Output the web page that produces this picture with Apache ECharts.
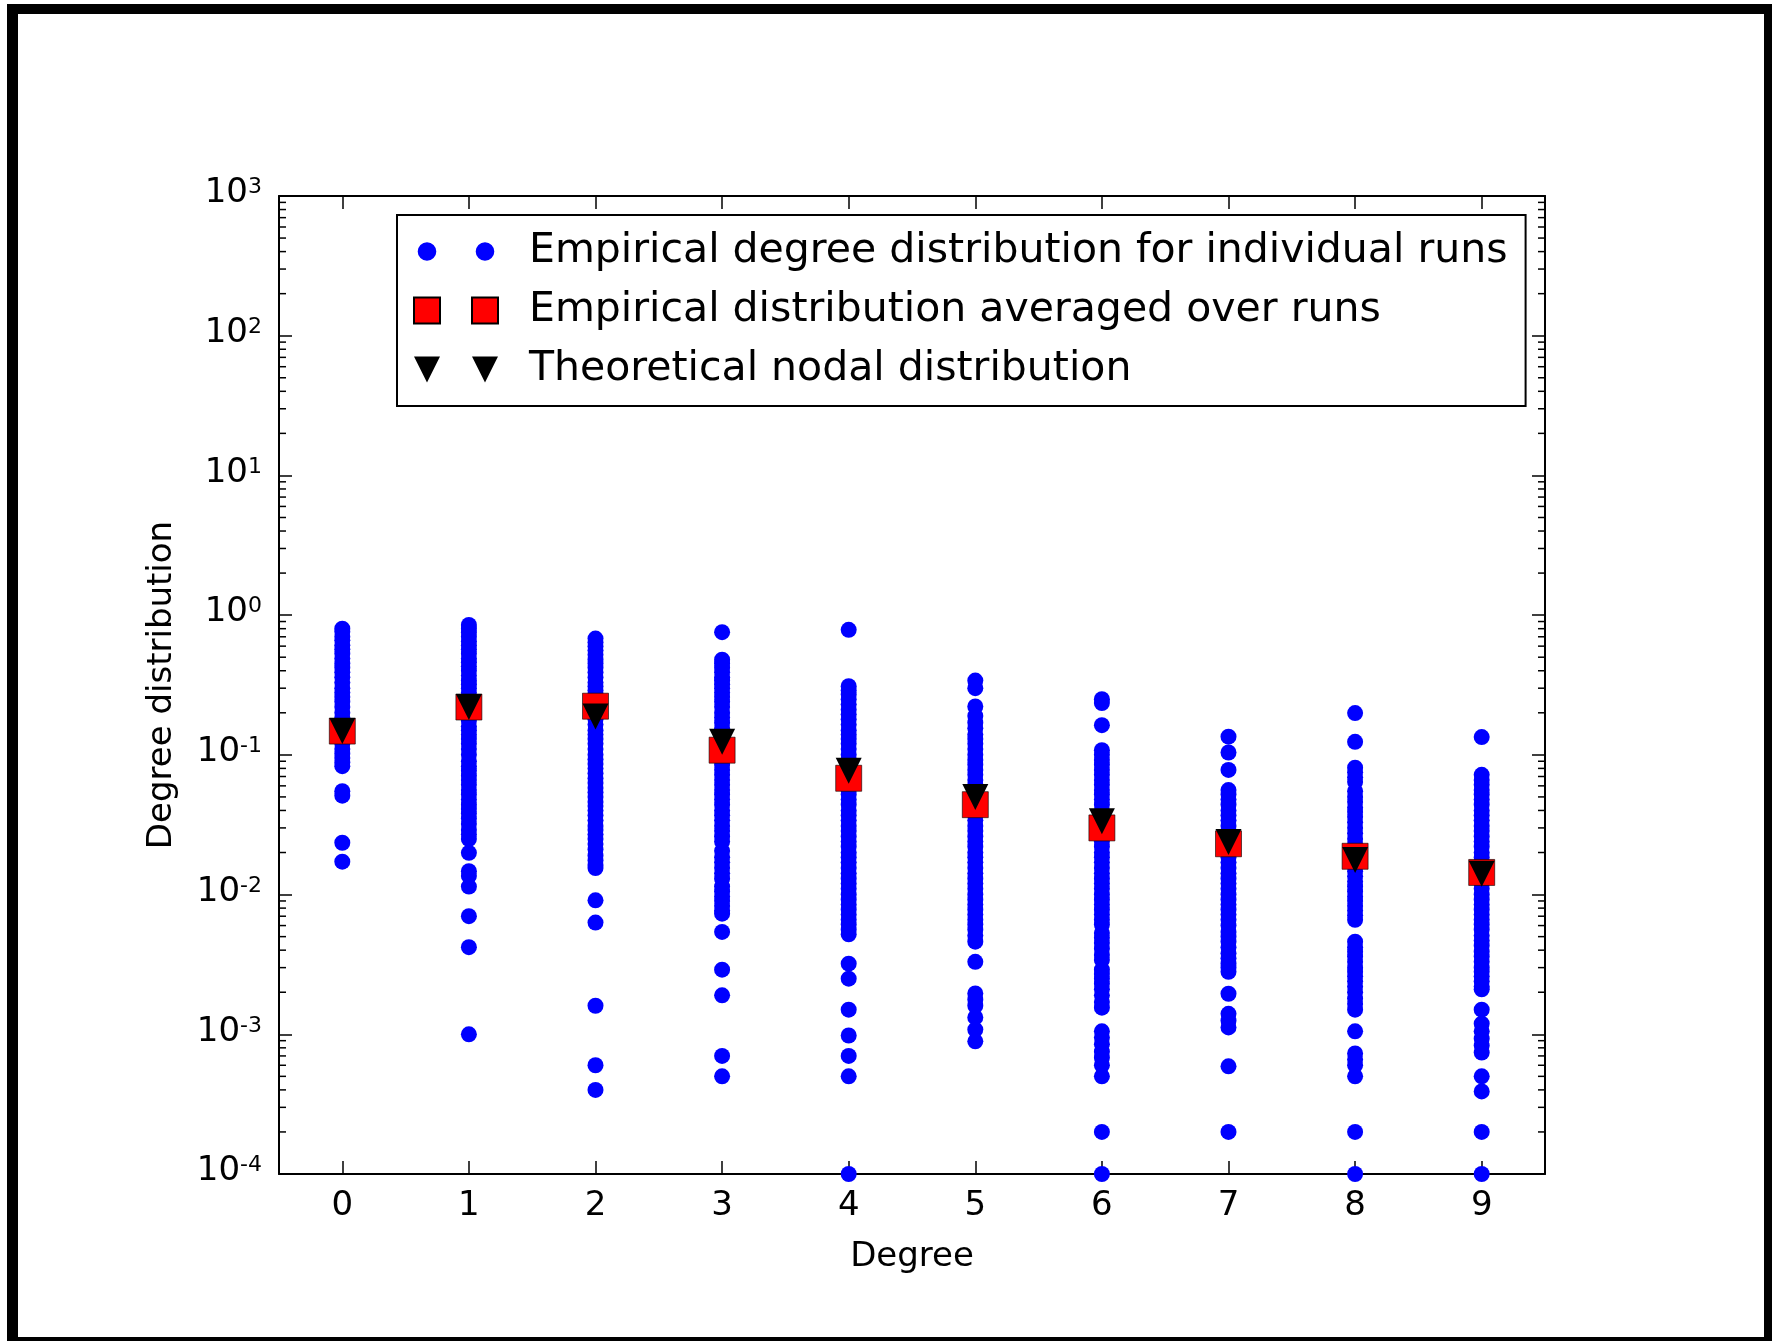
<!DOCTYPE html>
<html>
<head>
<meta charset="utf-8">
<script src="https://cdn.jsdelivr.net/npm/echarts@6/dist/echarts.min.js"></script>
<style>
html,body{margin:0;padding:0;background:#fff;}
#chart{width:1772px;height:1341px;}
</style>
</head>
<body>
<div id="chart"></div>
<script>
// ---------------- data ----------------
const degrees = [0, 1, 2, 3, 4, 5, 6, 7, 8, 9];

const runsDeg0 = [0.80, 0.76, 0.70, 0.66, 0.61, 0.57, 0.53, 0.49, 0.45, 0.42, 0.39, 0.36, 0.33, 0.30, 0.28, 0.26, 0.24, 0.22, 0.20, 0.185, 0.17, 0.155, 0.14, 0.13, 0.12, 0.11, 0.102, 0.095, 0.088, 0.083, 0.055, 0.051, 0.0235, 0.0172];
const runsDeg1 = [0.85, 0.80, 0.75, 0.70, 0.65, 0.61, 0.57, 0.53, 0.49, 0.46, 0.43, 0.40, 0.37, 0.34, 0.32, 0.30, 0.28, 0.26, 0.24, 0.22, 0.205, 0.19, 0.175, 0.16, 0.15, 0.14, 0.13, 0.12, 0.11, 0.10, 0.09, 0.083, 0.077, 0.071, 0.066, 0.061, 0.056, 0.052, 0.048, 0.044, 0.041, 0.038, 0.035, 0.032, 0.029, 0.027, 0.025, 0.0199, 0.0147, 0.0136, 0.0114, 0.0070, 0.0042, 0.0010];
const runsDeg2 = [0.68, 0.64, 0.60, 0.56, 0.52, 0.48, 0.45, 0.42, 0.39, 0.36, 0.33, 0.31, 0.29, 0.27, 0.25, 0.23, 0.21, 0.195, 0.18, 0.165, 0.15, 0.14, 0.13, 0.12, 0.11, 0.10, 0.093, 0.086, 0.080, 0.074, 0.068, 0.063, 0.058, 0.054, 0.050, 0.046, 0.043, 0.040, 0.037, 0.034, 0.031, 0.029, 0.027, 0.025, 0.023, 0.021, 0.019, 0.0175, 0.0163, 0.0155, 0.0091, 0.0063, 0.0016, 0.0006, 0.0004];
const runsDeg3 = [0.755, 0.48, 0.45, 0.42, 0.39, 0.36, 0.34, 0.32, 0.30, 0.28, 0.26, 0.24, 0.22, 0.20, 0.185, 0.17, 0.155, 0.14, 0.13, 0.12, 0.11, 0.10, 0.092, 0.085, 0.078, 0.072, 0.066, 0.061, 0.056, 0.052, 0.048, 0.044, 0.040, 0.037, 0.034, 0.031, 0.0285, 0.026, 0.024, 0.0205, 0.0185, 0.017, 0.0155, 0.0142, 0.013, 0.0114, 0.0105, 0.0097, 0.009, 0.0083, 0.0077, 0.0073, 0.0054, 0.0029, 0.0019, 0.0007, 0.0005];
const runsDeg4 = [0.785, 0.31, 0.29, 0.27, 0.25, 0.23, 0.21, 0.195, 0.18, 0.165, 0.15, 0.14, 0.13, 0.12, 0.11, 0.10, 0.092, 0.085, 0.078, 0.072, 0.066, 0.061, 0.056, 0.052, 0.048, 0.044, 0.040, 0.037, 0.034, 0.031, 0.0285, 0.026, 0.024, 0.022, 0.020, 0.0185, 0.017, 0.0155, 0.0142, 0.013, 0.012, 0.011, 0.010, 0.0092, 0.0085, 0.0078, 0.0072, 0.0066, 0.0061, 0.0056, 0.0052, 0.0032, 0.0025, 0.0015, 0.00098, 0.0007, 0.0005, 0.0001];
const runsDeg5 = [0.34, 0.30, 0.222, 0.19, 0.17, 0.155, 0.14, 0.13, 0.12, 0.11, 0.10, 0.092, 0.085, 0.078, 0.072, 0.066, 0.061, 0.056, 0.052, 0.048, 0.044, 0.040, 0.037, 0.034, 0.031, 0.0285, 0.026, 0.024, 0.022, 0.020, 0.0185, 0.017, 0.0155, 0.0142, 0.013, 0.012, 0.011, 0.010, 0.0092, 0.0085, 0.0078, 0.0072, 0.0066, 0.0061, 0.0056, 0.0051, 0.0046, 0.0033, 0.00196, 0.00177, 0.0016, 0.00132, 0.00108, 0.00089];
const runsDeg6 = [0.25, 0.235, 0.163, 0.108, 0.10, 0.092, 0.085, 0.078, 0.072, 0.066, 0.061, 0.056, 0.052, 0.048, 0.044, 0.040, 0.037, 0.034, 0.031, 0.0285, 0.026, 0.024, 0.022, 0.020, 0.0185, 0.017, 0.0155, 0.0142, 0.013, 0.012, 0.011, 0.010, 0.0092, 0.0085, 0.0078, 0.0072, 0.0066, 0.0061, 0.0053, 0.0049, 0.0045, 0.0041, 0.0037, 0.0034, 0.0029, 0.0027, 0.0025, 0.0023, 0.0021, 0.0019, 0.0017, 0.00155, 0.00105, 0.00095, 0.00085, 0.00075, 0.00068, 0.0006, 0.0005, 0.0002, 0.0001];
const runsDeg7 = [0.135, 0.104, 0.078, 0.056, 0.052, 0.048, 0.044, 0.040, 0.037, 0.034, 0.031, 0.0285, 0.026, 0.024, 0.022, 0.020, 0.0185, 0.017, 0.0155, 0.0142, 0.013, 0.012, 0.011, 0.010, 0.0092, 0.0085, 0.0078, 0.0072, 0.0066, 0.006, 0.0054, 0.005, 0.0046, 0.0042, 0.0038, 0.0035, 0.0032, 0.0030, 0.0028, 0.00195, 0.0014, 0.00125, 0.00112, 0.00059, 0.0002];
const runsDeg8 = [0.199, 0.124, 0.081, 0.075, 0.069, 0.064, 0.055, 0.050, 0.046, 0.042, 0.039, 0.036, 0.033, 0.030, 0.0275, 0.025, 0.023, 0.021, 0.019, 0.0175, 0.016, 0.0147, 0.0135, 0.0124, 0.0114, 0.0105, 0.0097, 0.009, 0.0083, 0.0077, 0.0071, 0.0066, 0.0046, 0.0042, 0.0039, 0.0036, 0.0033, 0.003, 0.0028, 0.0026, 0.0024, 0.0022, 0.002, 0.0018, 0.00165, 0.0015, 0.00105, 0.00073, 0.00066, 0.0006, 0.0005, 0.0002, 0.0001];
const runsDeg9 = [0.134, 0.072, 0.066, 0.061, 0.056, 0.052, 0.048, 0.044, 0.040, 0.037, 0.034, 0.031, 0.0285, 0.026, 0.024, 0.022, 0.020, 0.0185, 0.017, 0.0155, 0.0142, 0.013, 0.012, 0.011, 0.010, 0.0092, 0.0085, 0.0078, 0.0072, 0.0066, 0.0061, 0.0056, 0.0051, 0.0047, 0.0043, 0.0039, 0.0036, 0.0033, 0.003, 0.0028, 0.0026, 0.0024, 0.0022, 0.0021, 0.0015, 0.00119, 0.00105, 0.00093, 0.00083, 0.00074, 0.0005, 0.00039, 0.0002, 0.0001];

const averagedValues   = [0.148, 0.22, 0.223, 0.108, 0.068, 0.044, 0.030, 0.0231, 0.0188, 0.0144];
const theoreticalValues = [0.148, 0.22, 0.188, 0.124, 0.077, 0.050, 0.0335, 0.0238, 0.0177, 0.0141];

const yMin = 1e-4, yMax = 1e3;
const seriesNames = [
  'Empirical degree distribution for individual runs',
  'Empirical distribution averaged over runs',
  'Theoretical nodal distribution'
];

// ---------------- build ----------------
const runsByDegree = [runsDeg0, runsDeg1, runsDeg2, runsDeg3, runsDeg4, runsDeg5, runsDeg6, runsDeg7, runsDeg8, runsDeg9];
const runPoints = [];
runsByDegree.forEach((arr, i) => arr.forEach(v => runPoints.push([i, v])));
const avgPoints = averagedValues.map((v, i) => [i, v]);
const theoPoints = theoreticalValues.map((v, i) => [i, v]);
const degreeLabels = degrees.map(String);

// minor ticks at 2..9 x 10^k (axis decoration)
const minorTickValues = [];
for (let e = -4; e < 3; e++) for (let k = 2; k <= 9; k++) minorTickValues.push([0, k * Math.pow(10, e)]);

const FONT = 'DejaVu Sans';
const iconCircles = 'path://M84,26L83.99,26L84,25.99Z M0,0L0.01,0L0,0.01Z M3.7,13A9.3,9.3,0,1,0,22.3,13A9.3,9.3,0,1,0,3.7,13Z M61.7,13A9.3,9.3,0,1,0,80.3,13A9.3,9.3,0,1,0,61.7,13Z';
const iconSquares = 'path://M0,0L26,0L26,26L0,26Z M58,0L84,0L84,26L58,26Z';
const iconTriangles = 'path://M0,0L26,0L13,26Z M58,0L84,0L71,26Z';

const chart = echarts.init(document.getElementById('chart'), null, {renderer: 'canvas'});

const tickStyle = {color: '#000', width: 1.5};
const axisLineStyle = {color: '#000', width: 2};

function yLabel(v) {
  const e = Math.round(Math.log10(v));
  return '{b|10}{s|' + e + '}';
}

const option = {
  backgroundColor: '#fff',
  animation: false,
  textStyle: {fontFamily: FONT},
  grid: {left: 279, right: 227, top: 196, bottom: 167, containLabel: false},
  xAxis: [
    {
      type: 'category', data: degreeLabels, boundaryGap: true, position: 'bottom',
      axisLine: {show: true, lineStyle: axisLineStyle},
      axisTick: {show: true, inside: true, alignWithLabel: true, interval: 0, length: 13, lineStyle: tickStyle},
      axisLabel: {color: '#000', fontSize: 34, margin: 15, interval: 0, fontFamily: FONT},
      splitLine: {show: false},
      name: 'Degree', nameLocation: 'middle', nameGap: 66,
      nameTextStyle: {color: '#000', fontSize: 34, fontFamily: FONT}
    },
    {
      type: 'category', data: degreeLabels, boundaryGap: true, position: 'top',
      axisLine: {show: true, lineStyle: axisLineStyle},
      axisTick: {show: true, inside: true, alignWithLabel: true, interval: 0, length: 13, lineStyle: tickStyle},
      axisLabel: {show: false},
      splitLine: {show: false}
    }
  ],
  yAxis: [
    {
      type: 'log', logBase: 10, min: yMin, max: yMax, splitNumber: 7, position: 'left',
      axisLine: {show: true, lineStyle: axisLineStyle},
      axisTick: {show: true, inside: true, length: 13, lineStyle: tickStyle},
      axisLabel: {
        color: '#000', margin: 17, formatter: yLabel, padding: [0, 0, 1, 0],
        rich: {
          b: {fontSize: 34, fontFamily: FONT, color: '#000', lineHeight: 38, verticalAlign: 'top'},
          s: {fontSize: 22, fontFamily: FONT, color: '#000', lineHeight: 32, verticalAlign: 'top'}
        }
      },
      splitLine: {show: false},
      name: 'Degree distribution', nameLocation: 'middle', nameGap: 100,
      nameTextStyle: {color: '#000', fontSize: 34, fontFamily: FONT}
    },
    {
      type: 'log', logBase: 10, min: yMin, max: yMax, splitNumber: 7, position: 'right',
      axisLine: {show: true, lineStyle: axisLineStyle},
      axisTick: {show: true, inside: true, length: 13, lineStyle: tickStyle},
      axisLabel: {show: false},
      splitLine: {show: false}
    }
  ],
  legend: {
    orient: 'vertical', left: 397, top: 215, padding: [16, 18, 16, 16],
    itemGap: 18, itemWidth: 84, itemHeight: 26,
    borderColor: '#000', borderWidth: 2, borderRadius: 0, backgroundColor: '#fff',
    selectedMode: false,
    textStyle: {color: '#000', fontSize: 41, fontFamily: FONT, lineHeight: 40, padding: [0, 0, 0, 26]},
    data: [
      {name: seriesNames[0], icon: iconCircles},
      {name: seriesNames[1], icon: iconSquares},
      {name: seriesNames[2], icon: iconTriangles}
    ],
    z: 10
  },
  series: [
    {
      name: seriesNames[0], type: 'scatter', xAxisIndex: 0, yAxisIndex: 0,
      data: runPoints, symbol: 'circle', symbolSize: 16,
      itemStyle: {color: '#0000ff', opacity: 1},
      z: 2
    },
    {
      name: seriesNames[1], type: 'scatter', xAxisIndex: 0, yAxisIndex: 0,
      data: avgPoints, symbol: 'rect', symbolSize: 26,
      itemStyle: {color: '#ff0000', borderColor: '#000', borderWidth: 0.6, opacity: 1},
      z: 3
    },
    {
      name: seriesNames[2], type: 'scatter', xAxisIndex: 0, yAxisIndex: 0,
      data: theoPoints, symbol: 'triangle', symbolSize: [26, 26], symbolRotate: 180,
      itemStyle: {color: '#000000', opacity: 1},
      z: 4
    },
    {
      name: 'minorTicks', type: 'custom', xAxisIndex: 0, yAxisIndex: 0, silent: true, clip: false, z: 5,
      data: minorTickValues, encode: {x: 0, y: 1},
      renderItem: function (params, api) {
        const cs = params.coordSys;
        const y = api.coord([0, api.value(1)])[1];
        return {
          type: 'group',
          children: [
            {type: 'line', shape: {x1: cs.x, y1: y, x2: cs.x + 7, y2: y}, style: {stroke: '#000', lineWidth: 1.5}},
            {type: 'line', shape: {x1: cs.x + cs.width, y1: y, x2: cs.x + cs.width - 7, y2: y}, style: {stroke: '#000', lineWidth: 1.5}}
          ]
        };
      }
    }
  ],
  graphic: [
    {type: 'rect', shape: {x: 7, y: 4, width: 1765, height: 10}, style: {fill: '#000'}, z: 100},
    {type: 'rect', shape: {x: 7, y: 4, width: 11, height: 1337}, style: {fill: '#000'}, z: 100},
    {type: 'rect', shape: {x: 1764, y: 4, width: 8, height: 1337}, style: {fill: '#000'}, z: 100},
    {type: 'rect', shape: {x: 7, y: 1337, width: 1765, height: 4}, style: {fill: '#000'}, z: 100}
  ]
};

chart.setOption(option);
</script>
</body>
</html>
